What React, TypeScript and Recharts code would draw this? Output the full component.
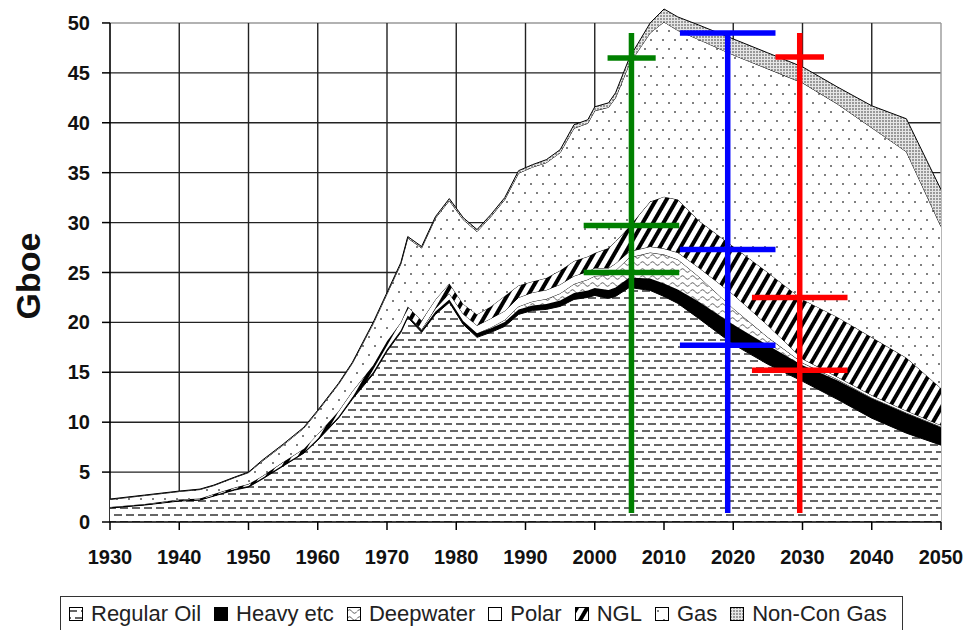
import React from 'react';
import { AreaChart, Area, XAxis, YAxis, ReferenceLine } from 'recharts';

const years = [
  1930, 1935, 1940, 1943, 1945, 1948, 1950, 1952, 1955, 1958,
  1960, 1963, 1965, 1968, 1970, 1972, 1973, 1975, 1977, 1979,
  1981, 1983, 1985, 1987, 1989, 1991, 1993, 1995, 1997, 1999,
  2000, 2002, 2003, 2005, 2008, 2010, 2012, 2015, 2020, 2025,
  2030, 2035, 2040, 2045, 2050,
];

const regularOil = [
  1.4, 1.7, 2.1, 2.2, 2.6, 3.2, 3.5, 4.3, 5.6, 6.9,
  8.2, 10.4, 12.3, 14.8, 17.1, 19.0, 20.5, 19.0, 20.8, 22.0,
  19.8, 18.5, 19.0, 19.6, 20.8, 21.2, 21.3, 21.6, 22.3, 22.5,
  22.7, 22.4, 22.6, 23.5, 23.2, 22.6, 21.9, 20.4, 17.8, 15.8,
  14.1, 12.3, 10.4, 8.9, 7.7,
];

const heavy = [
  0.05, 0.05, 0.05, 0.05, 0.05, 0.1, 0.1, 0.1, 0.1, 0.1,
  0.15, 0.15, 0.2, 0.2, 0.2, 0.2, 0.2, 0.2, 0.3, 0.3,
  0.35, 0.4, 0.4, 0.45, 0.5, 0.5, 0.55, 0.6, 0.65, 0.7,
  0.75, 0.85, 0.9, 1.0, 1.2, 1.3, 1.4, 1.7, 2.0, 1.9,
  1.6, 1.9, 2.0, 2.0, 1.8,
];

const deepwater = [
  0, 0, 0, 0, 0, 0, 0, 0, 0, 0,
  0, 0, 0, 0, 0, 0, 0, 0, 0, 0,
  0, 0, 0.1, 0.2, 0.3, 0.4, 0.5, 0.7, 0.9, 1.1,
  1.2, 1.5, 1.7, 2.0, 2.6, 2.9, 3.0, 2.5, 1.6, 0.8,
  0.25, 0.1, 0.05, 0.05, 0.05,
];

const polar = [
  0, 0, 0, 0, 0, 0, 0, 0, 0, 0,
  0, 0, 0, 0, 0, 0, 0, 0.1, 0.3, 0.6,
  0.7, 0.8, 0.9, 0.9, 0.9, 0.9, 0.9, 0.9, 0.8, 0.8,
  0.8, 0.7, 0.7, 0.6, 0.6, 0.6, 0.7, 0.9, 1.4, 1.2,
  0.4, 0.25, 0.25, 0.2, 0.15,
];

const ngl = [
  0.05, 0.05, 0.1, 0.1, 0.15, 0.15, 0.2, 0.2, 0.3, 0.35,
  0.45, 0.55, 0.6, 0.7, 0.8, 0.8, 0.9, 0.9, 0.9, 1.0,
  1.0, 1.1, 1.2, 1.5, 1.2, 1.1, 1.2, 1.4, 1.5, 1.5,
  1.5, 2.0, 2.2, 2.5, 4.5, 5.2, 5.3, 4.7, 4.8, 5.3,
  5.95, 6.0, 5.8, 5.3, 3.7,
];

const gas = [
  0.75, 0.85, 0.8, 0.9, 0.85, 1.0, 1.15, 1.5, 1.7, 2.05,
  2.3, 2.7, 2.8, 4.15, 4.75, 5.85, 6.85, 7.25, 8.15, 8.3,
  8.45, 8.3, 9.0, 9.65, 11.25, 11.45, 11.55, 11.8, 13.3, 13.35,
  14.25, 14.1, 14.4, 16.3, 16.9, 17.5, 16.95, 18.15, 19.2, 20.4,
  21.7, 21.35, 21.0, 20.65, 16.2,
];

const nonConGas = [
  0.05, 0.05, 0.05, 0.05, 0.05, 0.05, 0.05, 0.1, 0.1, 0.1,
  0.1, 0.1, 0.1, 0.15, 0.15, 0.15, 0.15, 0.15, 0.15, 0.2,
  0.2, 0.2, 0.2, 0.2, 0.25, 0.25, 0.3, 0.3, 0.35, 0.35,
  0.4, 0.45, 0.5, 0.6, 1.0, 1.3, 1.35, 1.45, 1.6, 1.6,
  1.6, 1.7, 2.2, 3.3, 3.7,
];

const xTicks = [1930, 1940, 1950, 1960, 1970, 1980, 1990, 2000, 2010, 2020, 2030, 2040, 2050];
const yTicks = [0, 5, 10, 15, 20, 25, 30, 35, 40, 45, 50];

// vertical marker lines: year, bottom, top
const markerYears = [2005.3, 2019.2, 2029.6];
const markerRanges = [[0.9, 49], [0.9, 49], [0.9, 49]];
// crossbars: [value, fromYear, toYear]
const markerBars = [
  [[46.5, 2001.85, 2008.8], [29.7, 1998.4, 2012.2], [25.0, 1998.4, 2012.2]],
  [[49.0, 2012.3, 2026.1], [27.3, 2012.3, 2026.1], [17.7, 2012.3, 2026.1]],
  [[46.6, 2026.1, 2033.1], [22.5, 2022.7, 2036.5], [15.2, 2022.7, 2036.5]],
];
const markerColors = ['#008000', '#0000ff', '#ff0000'];

const data = years.map((year, i) => ({
  year,
  regularOil: regularOil[i],
  heavy: heavy[i],
  deepwater: deepwater[i],
  polar: polar[i],
  ngl: ngl[i],
  gas: gas[i],
  nonConGas: nonConGas[i],
}));

const series = [
  { key: 'regularOil', name: 'Regular Oil', fill: 'url(#pOil)' },
  { key: 'heavy', name: 'Heavy etc', fill: '#000' },
  { key: 'deepwater', name: 'Deepwater', fill: 'url(#pDeep)' },
  { key: 'polar', name: 'Polar', fill: '#fff' },
  { key: 'ngl', name: 'NGL', fill: 'url(#pNgl)' },
  { key: 'gas', name: 'Gas', fill: 'url(#pGas)' },
  { key: 'nonConGas', name: 'Non-Con Gas', fill: 'url(#pNonCon)' },
];

const font = '"Liberation Sans", Arial, sans-serif';
const tickStyle = { fontSize: 20, fontWeight: 700, fill: '#111', fontFamily: font };

const Patterns = () => (
  <defs>
    <pattern id="pOil" width="12" height="14" patternUnits="userSpaceOnUse">
      <rect width="12" height="14" fill="#fff" />
      <rect x="0" y="3" width="8" height="2" fill="#666" />
      <rect x="6" y="10" width="8" height="2" fill="#666" />
      <rect x="-6" y="10" width="8" height="2" fill="#666" />
    </pattern>
    <pattern id="pDeep" width="10" height="7" patternUnits="userSpaceOnUse">
      <rect width="10" height="7" fill="#fff" />
      <path d="M0 4.5 Q2.5 1 5 4.5 T10 4.5" fill="none" stroke="#555" strokeWidth="1" />
    </pattern>
    <pattern id="pNgl" width="9" height="9" patternUnits="userSpaceOnUse" patternTransform="rotate(30)">
      <rect width="9" height="9" fill="#fff" />
      <rect width="4" height="9" fill="#000" />
    </pattern>
    <pattern id="pGas" width="12" height="18" patternUnits="userSpaceOnUse">
      <rect width="12" height="18" fill="#fff" />
      <circle cx="3" cy="4" r="1" fill="#555" />
      <circle cx="9" cy="13" r="1" fill="#555" />
    </pattern>
    <pattern id="pNonCon" width="3" height="3" patternUnits="userSpaceOnUse">
      <rect width="3" height="3" fill="#e6e6e6" />
      <rect width="2" height="2" fill="#999" />
    </pattern>
  </defs>
);

const LegendBox = () => (
  <div
    style={{
      position: 'absolute',
      left: 60,
      top: 596,
      width: 843,
      height: 34,
      border: '1.5px solid #333',
      borderBottom: 'none',
      display: 'flex',
      alignItems: 'center',
      paddingLeft: 8,
      boxSizing: 'border-box',
      fontFamily: font,
      fontSize: 22,
      color: '#222',
      whiteSpace: 'nowrap',
    }}
  >
    {series.map((s) => (
      <span key={s.key} style={{ display: 'flex', alignItems: 'center', marginRight: 13 }}>
        <svg width={14} height={14} style={{ marginRight: 8 }}>
          <rect x={0.5} y={0.5} width={13} height={13} fill={s.fill} stroke="#000" strokeWidth={1} />
        </svg>
        {s.name}
      </span>
    ))}
  </div>
);

export default function App() {
  return (
    <div style={{ position: 'absolute', left: 0, top: 0, width: 970, height: 630, background: '#fff' }}>
      <AreaChart
        width={970}
        height={630}
        data={data}
        margin={{ top: 3, right: 29, bottom: 48, left: 0 }}
        style={{ fontFamily: font }}
      >
        <Patterns />
        <XAxis
          dataKey="year"
          type="number"
          domain={[1930, 2050]}
          ticks={xTicks}
          allowDataOverflow
          height={60}
          tick={tickStyle}
          tickSize={8}
          tickMargin={20}
          axisLine={{ stroke: '#000', strokeWidth: 1.5 }}
          tickLine={{ stroke: '#000', strokeWidth: 1.5 }}
        />
        <YAxis
          type="number"
          domain={[0, 52]}
          ticks={yTicks}
          allowDataOverflow
          width={110}
          tick={tickStyle}
          tickSize={8}
          tickMargin={12}
          axisLine={false}
          tickLine={{ stroke: '#000', strokeWidth: 1.5 }}
        />
        {yTicks.slice(1).map((v) => (
          <ReferenceLine
            key={'h' + v}
            segment={[{ x: 1930, y: v }, { x: 2050, y: v }]}
            stroke={v === 50 ? '#999' : '#222'}
            strokeWidth={1.4}
            zIndex={-90}
          />
        ))}
        {xTicks.map((t) => (
          <ReferenceLine
            key={'v' + t}
            segment={[{ x: t, y: 0 }, { x: t, y: 50 }]}
            stroke={t === 2050 ? '#999' : t === 1930 ? '#000' : '#222'}
            strokeWidth={t === 1930 ? 1.6 : 1.4}
            zIndex={-90}
          />
        ))}
        {series.map((s) => (
          <Area
            key={s.key}
            type="linear"
            dataKey={s.key}
            name={s.name}
            stackId="a"
            fill={s.fill}
            fillOpacity={1}
            stroke="#000"
            strokeWidth={1}
            dot={false}
            activeDot={false}
            isAnimationActive={false}
          />
        ))}
        {markerYears.map((yr, i) => (
          <ReferenceLine
            key={'m' + i}
            segment={[{ x: yr, y: markerRanges[i][0] }, { x: yr, y: markerRanges[i][1] }]}
            stroke={markerColors[i]}
            strokeWidth={5.5}
            zIndex={900}
          />
        ))}
        {markerBars.map((bars, i) =>
          bars.map((b, j) => (
            <ReferenceLine
              key={'b' + i + '-' + j}
              segment={[{ x: b[1], y: b[0] }, { x: b[2], y: b[0] }]}
              stroke={markerColors[i]}
              strokeWidth={5.5}
              zIndex={900}
            />
          ))
        )}
      </AreaChart>
      <div
        style={{
          position: 'absolute',
          left: 28,
          top: 276,
          transform: 'translate(-50%, -50%) rotate(-90deg)',
          fontFamily: font,
          fontWeight: 700,
          fontSize: 34,
          color: '#111',
        }}
      >
        Gboe
      </div>
      <LegendBox />
    </div>
  );
}
